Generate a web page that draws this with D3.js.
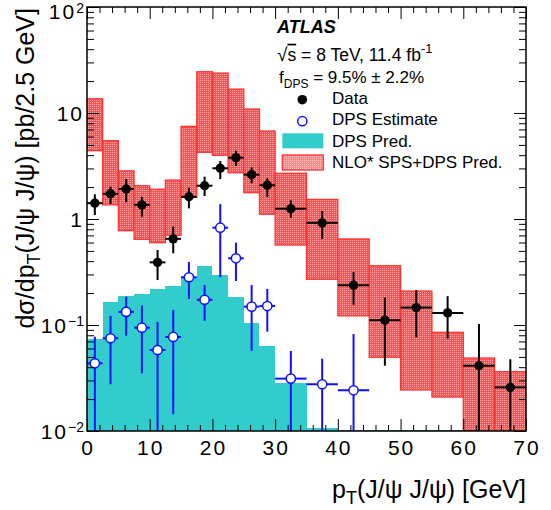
<!DOCTYPE html>
<html>
<head>
<meta charset="utf-8">
<script src="https://cdn.jsdelivr.net/npm/d3@7"></script>
<style>
  body { margin: 0; background: #fff; }
  text { font-family: "Liberation Sans", Arial, Helvetica, sans-serif; fill: #000; }
</style>
</head>
<body>
<svg id="chart"></svg>
<script>
// bin edges in pT (GeV): 2.5 GeV bins up to 30, then 5 GeV bins
const binEdges = [0, 2.5, 5, 7.5, 10, 12.5, 15, 17.5, 20, 22.5, 25, 27.5, 30, 35, 40, 45, 50, 55, 60, 65, 70];

// Data (black points)
const dataVal = [1.41, 1.73, 1.92, 1.36, 0.39, 0.65, 1.62, 2.06, 3.01, 3.79, 2.62, 2.08, 1.25, 0.92, 0.237, 0.111, 0.146, 0.130, 0.0413, 0.0258];
const dataHi  = [1.71, 2.02, 2.38, 1.62, 0.51, 0.85, 1.97, 2.51, 3.52, 4.41, 3.07, 2.42, 1.50, 1.19, 0.316, 0.181, 0.214, 0.187, 0.102, 0.0475];
const dataLo  = [1.09, 1.39, 1.44, 1.05, 0.266, 0.475, 1.26, 1.65, 2.38, 3.16, 2.17, 1.62, 1.03, 0.648, 0.155, 0.0413, 0.0766, 0.0743, 0.004, 0.004];

// DPS estimate (open blue circles), first 15 bins
const dpsVal = [0.0435, 0.075, 0.133, 0.0943, 0.0581, 0.0771, 0.282, 0.173, 0.828, 0.426, 0.149, 0.151, 0.0312, 0.0276, 0.0242];
const dpsHi  = [0.0776, 0.122, 0.185, 0.153, 0.107, 0.139, 0.393, 0.238, 1.38, 0.598, 0.238, 0.219, 0.0569, 0.0481, 0.0823];
const dpsLo  = [0.004, 0.0276, 0.0793, 0.035, 0.004, 0.0144, 0.176, 0.110, 0.282, 0.260, 0.0572, 0.0865, 0.004, 0.004, 0.004];

// DPS prediction (cyan histogram)
const dpsPred = [0.0733, 0.164, 0.187, 0.198, 0.219, 0.233, 0.286, 0.362, 0.298, 0.184, 0.104, 0.0638, 0.0286, 0.0107, 0.004, 0.004, 0.004, 0.004, 0.004, 0.004];

// NLO* SPS+DPS prediction band (red boxes)
const nloHi = [13.6, 5.48, 2.84, 2.06, 1.91, 2.33, 7.48, 24.5, 23.8, 16.8, 10.9, 6.76, 2.70, 1.53, 0.648, 0.362, 0.209, 0.0853, 0.0488, 0.0363];
const nloLo = [4.41, 1.36, 0.776, 0.643, 0.598, 0.702, 1.60, 4.26, 3.99, 2.73, 1.77, 1.11, 0.568, 0.270, 0.122, 0.0496, 0.0244, 0.0209, 0.004, 0.004];

// axis ticks
const xMajor = [0, 10, 20, 30, 40, 50, 60, 70];
const xTickText = ["0", "10", "20", "30", "40", "50", "60", "70"];
const yMajor = [0.01, 0.1, 1, 10, 100];
const yTickText = [["10", "\u22122"], ["10", "\u22121"], ["1", ""], ["10", ""], ["10", "2"]];

const legendText = ["Data", "DPS Estimate", "DPS Pred.", "NLO* SPS+DPS Pred."];

const W = 551, H = 510;
const pLeft = 87, pRight = 526, pTop = 7, pBottom = 431;

const svg = d3.select("#chart").attr("width", W).attr("height", H);

const x = d3.scaleLinear().domain([0, 70]).range([pLeft, pRight]);
const y = d3.scaleLog().domain([0.01, 100]).range([pBottom, pTop]).clamp(true);

const bins = d3.range(binEdges.length - 1).map(i => ({ i, x0: binEdges[i], x1: binEdges[i + 1] }));

// patterns for the red band
const defs = svg.append("defs");
const pat = defs.append("pattern").attr("id", "redfill")
  .attr("width", 2).attr("height", 2).attr("patternUnits", "userSpaceOnUse");
pat.append("rect").attr("width", 2).attr("height", 2).attr("fill", "#ff5252");
pat.append("rect").attr("width", 1).attr("height", 1).attr("fill", "#ffaaaa");
const pat2 = defs.append("pattern").attr("id", "redfillLeg")
  .attr("width", 2).attr("height", 2).attr("patternUnits", "userSpaceOnUse");
pat2.append("rect").attr("width", 2).attr("height", 2).attr("fill", "#ff8888");
pat2.append("rect").attr("width", 1).attr("height", 1).attr("fill", "#ffc4c4");

defs.append("clipPath").attr("id", "plotclip")
  .append("rect").attr("x", pLeft).attr("y", pTop).attr("width", pRight - pLeft).attr("height", pBottom - pTop);

const plot = svg.append("g").attr("clip-path", "url(#plotclip)");

// cyan DPS prediction histogram
plot.selectAll("rect.dps")
  .data(bins)
  .enter()
  .append("rect")
  .attr("class", "dps")
  .attr("x", d => x(d.x0))
  .attr("width", d => x(d.x1) - x(d.x0))
  .attr("y", d => Math.min(y(dpsPred[d.i]), pBottom - 1.5))
  .attr("height", d => pBottom - Math.min(y(dpsPred[d.i]), pBottom - 1.5))
  .attr("fill", d => dpsPred[d.i] > 0.01 ? "#33cccc" : "#44b0aa")
  .attr("shape-rendering", "crispEdges");

// red NLO* band
plot.selectAll("rect.nlo")
  .data(bins)
  .enter()
  .append("rect")
  .attr("class", "nlo")
  .attr("x", d => x(d.x0))
  .attr("width", d => x(d.x1) - x(d.x0))
  .attr("y", d => y(nloHi[d.i]))
  .attr("height", d => y(nloLo[d.i]) - y(nloHi[d.i]))
  .attr("fill", "url(#redfill)")
  .attr("stroke", "#ff3333")
  .attr("stroke-width", 1.3);

// DPS estimate points
const dpsBins = bins.slice(0, dpsVal.length);
const gDps = plot.append("g").attr("stroke", "#1010ff").attr("stroke-width", 2);
gDps.selectAll("line.v")
  .data(dpsBins).enter().append("line")
  .attr("x1", d => x((d.x0 + d.x1) / 2)).attr("x2", d => x((d.x0 + d.x1) / 2))
  .attr("y1", d => y(dpsHi[d.i])).attr("y2", d => y(dpsLo[d.i]));
gDps.selectAll("line.h")
  .data(dpsBins).enter().append("line")
  .attr("x1", d => x(d.x0)).attr("x2", d => x(d.x1))
  .attr("y1", d => y(dpsVal[d.i])).attr("y2", d => y(dpsVal[d.i]));
gDps.selectAll("circle")
  .data(dpsBins).enter().append("circle")
  .attr("cx", d => x((d.x0 + d.x1) / 2))
  .attr("cy", d => y(dpsVal[d.i]))
  .attr("r", 4.6)
  .attr("fill", "#fff")
  .attr("stroke-width", 1.5);

// data points
const gData = plot.append("g").attr("stroke", "#000").attr("stroke-width", 2);
gData.selectAll("line.v")
  .data(bins).enter().append("line")
  .attr("x1", d => x((d.x0 + d.x1) / 2)).attr("x2", d => x((d.x0 + d.x1) / 2))
  .attr("y1", d => y(dataHi[d.i])).attr("y2", d => y(dataLo[d.i]));
gData.selectAll("line.h")
  .data(bins).enter().append("line")
  .attr("x1", d => x(d.x0)).attr("x2", d => x(d.x1))
  .attr("y1", d => y(dataVal[d.i])).attr("y2", d => y(dataVal[d.i]));
gData.selectAll("circle")
  .data(bins).enter().append("circle")
  .attr("cx", d => x((d.x0 + d.x1) / 2))
  .attr("cy", d => y(dataVal[d.i]))
  .attr("r", 4.7)
  .attr("fill", "#000")
  .attr("stroke", "none");

// axes: ROOT style, ticks inside on all four sides
const xMinor = d3.range(0, 71, 2).filter(v => v % 10 !== 0);
const yMinor = y.ticks().filter(v => !yMajor.some(m => Math.abs(m - v) / m < 1e-6));

function addAxis(axis, tx, ty) {
  const g = svg.append("g").attr("transform", `translate(${tx},${ty})`).call(axis);
  g.select(".domain").remove();
  g.selectAll("line").attr("stroke", "#000").attr("stroke-width", 1);
  return g;
}
addAxis(d3.axisBottom(x).tickValues(xMajor).tickSize(-12).tickFormat(""), 0, pBottom);
addAxis(d3.axisBottom(x).tickValues(xMinor).tickSize(-6).tickFormat(""), 0, pBottom);
addAxis(d3.axisTop(x).tickValues(xMajor).tickSize(-12).tickFormat(""), 0, pTop);
addAxis(d3.axisTop(x).tickValues(xMinor).tickSize(-6).tickFormat(""), 0, pTop);
addAxis(d3.axisLeft(y).tickValues(yMajor).tickSize(-12).tickFormat(""), pLeft, 0);
addAxis(d3.axisLeft(y).tickValues(yMinor).tickSize(-7).tickFormat(""), pLeft, 0);
addAxis(d3.axisRight(y).tickValues(yMajor).tickSize(-12).tickFormat(""), pRight, 0);
addAxis(d3.axisRight(y).tickValues(yMinor).tickSize(-7).tickFormat(""), pRight, 0);

svg.append("rect")
  .attr("x", pLeft).attr("y", pTop).attr("width", pRight - pLeft).attr("height", pBottom - pTop)
  .attr("fill", "none").attr("stroke", "#000").attr("stroke-width", 1.5);

// tick labels
svg.append("g").selectAll("text")
  .data(xMajor).enter().append("text")
  .attr("x", d => x(d) + 1).attr("y", 455)
  .attr("text-anchor", "middle")
  .style("font-size", "21px").style("letter-spacing", "2px")
  .text((d, i) => xTickText[i]);

// keep the top label inside the page
const yl = svg.append("g").selectAll("text")
  .data(yMajor).enter().append("text")
  .attr("x", 84).attr("y", d => Math.max(y(d) + 7.5, 19))
  .attr("text-anchor", "end")
  .style("font-size", "21px").style("letter-spacing", "2px");
yl.append("tspan").text((d, i) => yTickText[i][0]);
yl.append("tspan").attr("dy", -6.5).style("font-size", "14px").style("letter-spacing", "0px")
  .text((d, i) => yTickText[i][1]);

// axis titles
const xt = svg.append("text").attr("x", pRight).attr("y", 498)
  .attr("text-anchor", "end").style("font-size", "25px");
xt.append("tspan").text("p");
xt.append("tspan").attr("dy", 6).style("font-size", "18px").text("T");
xt.append("tspan").attr("dy", -6).text("(J/\u03c8 J/\u03c8) [GeV]");

const yt = svg.append("text").attr("transform", `translate(34,${pTop + 1}) rotate(-90)`)
  .attr("text-anchor", "end").style("font-size", "25px");
yt.append("tspan").text("d\u03c3/dp");
yt.append("tspan").attr("dy", 6).style("font-size", "18px").text("T");
yt.append("tspan").attr("dy", -6).text("(J/\u03c8 J/\u03c8) [pb/2.5 GeV]");

// labels
svg.append("text").attr("x", 277).attr("y", 32.7)
  .style("font-size", "18px").style("font-weight", "bold").style("font-style", "italic")
  .text("ATLAS");

const t1 = svg.append("text").attr("x", 277).attr("y", 60.7).style("font-size", "17.5px");
t1.append("tspan").style("font-size", "19px").text("\u221a");
t1.append("tspan").style("text-decoration", "overline").text("s");
t1.append("tspan").text(" = 8 TeV, 11.4 fb");
t1.append("tspan").attr("dy", -8).style("font-size", "13px").text("-1");

const t2 = svg.append("text").attr("x", 279).attr("y", 83).style("font-size", "17px");
t2.append("tspan").text("f");
t2.append("tspan").attr("dy", 5).style("font-size", "12px").text("DPS");
t2.append("tspan").attr("dy", -5).text(" = 9.5% \u00b1 2.2%");

// legend
const legY = [103.5, 125, 146.7, 168.3];
const leg = svg.append("g");
leg.selectAll("text")
  .data(legendText).enter().append("text")
  .attr("x", 332).attr("y", (d, i) => legY[i])
  .style("font-size", "17px")
  .text(d => d);
leg.append("circle").attr("cx", 302.3).attr("cy", legY[0] - 3.8).attr("r", 4.8).attr("fill", "#000");
leg.append("circle").attr("cx", 302.3).attr("cy", legY[1] - 3.8).attr("r", 4.6)
  .attr("fill", "#fff").attr("stroke", "#1010ff").attr("stroke-width", 1.5);
leg.append("rect").attr("x", 282.3).attr("y", 133.3).attr("width", 41).attr("height", 15)
  .attr("fill", "#33cccc");
leg.append("rect").attr("x", 282.3).attr("y", 155).attr("width", 41).attr("height", 15)
  .attr("fill", "url(#redfillLeg)").attr("stroke", "#ff3333").attr("stroke-width", 1.3);
</script>
</body>
</html>
